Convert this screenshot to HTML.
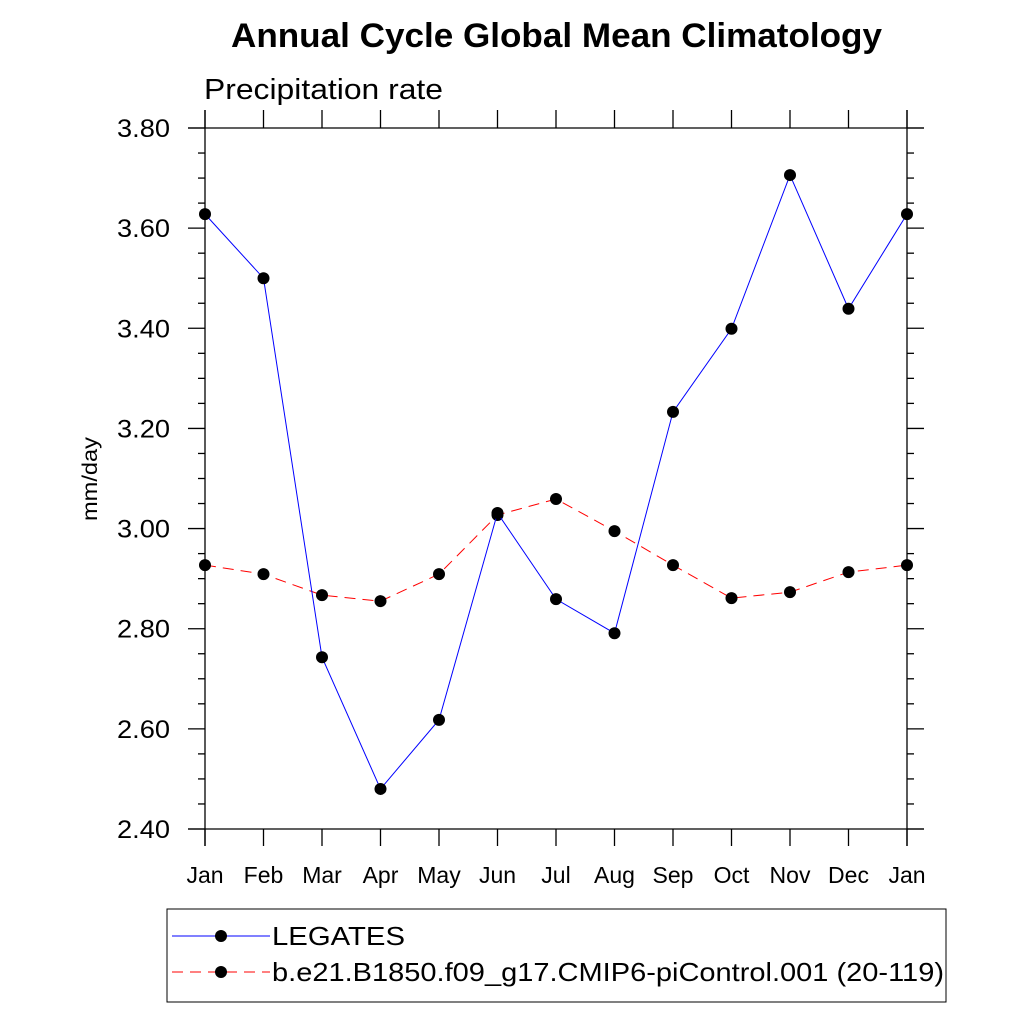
<!DOCTYPE html>
<html><head><meta charset="utf-8"><style>
body{margin:0;background:#fff;}
svg text{font-family:"Liberation Sans",Arial,sans-serif;}
</style></head><body>
<svg width="1024" height="1024" viewBox="0 0 1024 1024">
<text x="231" y="47" font-size="34" font-weight="bold" textLength="651" lengthAdjust="spacingAndGlyphs">Annual Cycle Global Mean Climatology</text>
<text x="204" y="99" font-size="29" textLength="239" lengthAdjust="spacingAndGlyphs">Precipitation rate</text>
<text transform="translate(97,479) rotate(-90)" font-size="21" text-anchor="middle" textLength="84" lengthAdjust="spacingAndGlyphs">mm/day</text>
<g id="axes" stroke="#000" stroke-width="1.3"></g>
<g id="series"></g>
<g id="labels"></g>
<rect x="167" y="909" width="779" height="93" fill="none" stroke="#000" stroke-width="1"/>
<g>
<line x1="172" y1="936" x2="270" y2="936" stroke="#00f" stroke-width="1"/>
<circle cx="221" cy="936" r="6" fill="#000"/>
<text x="272" y="945" font-size="26" textLength="133" lengthAdjust="spacingAndGlyphs">LEGATES</text>
</g>
<g>
<line x1="172" y1="972" x2="270" y2="972" stroke="#f00" stroke-width="1" stroke-dasharray="11,7"/>
<circle cx="221" cy="972" r="6" fill="#000"/>
<text x="272" y="981" font-size="26" textLength="672" lengthAdjust="spacingAndGlyphs">b.e21.B1850.f09_g17.CMIP6-piControl.001 (20-119)</text>
</g>
</svg>
<script>
const months = ["Jan","Feb","Mar","Apr","May","Jun","Jul","Aug","Sep","Oct","Nov","Dec","Jan"];
const legates = [3.628,3.500,2.743,2.480,2.618,3.031,2.859,2.791,3.233,3.399,3.706,3.439,3.628];
const model = [2.927,2.909,2.867,2.855,2.909,3.027,3.059,2.995,2.927,2.861,2.873,2.913,2.927];
const yTicks = [2.40,2.60,2.80,3.00,3.20,3.40,3.60,3.80];
const yTickLabels = ["2.40","2.60","2.80","3.00","3.20","3.40","3.60","3.80"];

const X0=205,X1=907,Y0=829,Y1=128;
const xs=i=>X0+(X1-X0)*i/(months.length-1);
const ys=v=>Y0-(v-2.40)/(3.80-2.40)*(Y0-Y1);
const NS="http://www.w3.org/2000/svg";
function mk(tag,attrs,parent){const e=document.createElementNS(NS,tag);for(const k in attrs)e.setAttribute(k,attrs[k]);parent.appendChild(e);return e;}
const axes=document.getElementById('axes'),series=document.getElementById('series'),labels=document.getElementById('labels');

let a;
a=mk('line',{x1:X0,y1:110,x2:X0,y2:846},axes);


a=mk('line',{x1:X1,y1:110,x2:X1,y2:846},axes);


a=mk('line',{x1:188,y1:Y0,x2:924,y2:Y0},axes);


a=mk('line',{x1:188,y1:Y1,x2:924,y2:Y1},axes);



yTicks.forEach((v,i)=>{
  const y=ys(v);
  mk('line',{x1:188,y1:y,x2:X0,y2:y},axes);
  mk('line',{x1:X1,y1:y,x2:924,y2:y},axes);
  const t=mk('text',{x:170,y:y+9,'font-size':25,'text-anchor':'end',textLength:53,lengthAdjust:'spacingAndGlyphs'},labels);
  t.textContent=yTickLabels[i];
  
  
  if(i<yTicks.length-1){
    for(let k=1;k<4;k++){
      const ym=ys(v+0.05*k);
      mk('line',{x1:198,y1:ym,x2:X0,y2:ym},axes);
      mk('line',{x1:X1,y1:ym,x2:914,y2:ym},axes);
    }
  }
});
months.forEach((m,i)=>{
  const x=xs(i);
  mk('line',{x1:x,y1:Y0,x2:x,y2:846},axes);
  mk('line',{x1:x,y1:110,x2:x,y2:Y1},axes);
  const t=mk('text',{x:x,y:883,'font-size':23,'text-anchor':'middle'},labels);
  t.textContent=m;
  
  
});

function drawSeries(vals,color,dash,name){
  const pts=vals.map((v,i)=>xs(i)+','+ys(v)).join(' ');
  const pl=mk('polyline',{points:pts,fill:'none',stroke:color,'stroke-width':1,'stroke-dasharray':dash},series);
  
  
  vals.forEach((v,i)=>{
    const c=mk('circle',{cx:xs(i),cy:ys(v),r:6,fill:'#000'},series);
    
    
  });
}
drawSeries(model,'#f00','11,7','model');
drawSeries(legates,'#00f','none','legates');
</script>
</body></html>
